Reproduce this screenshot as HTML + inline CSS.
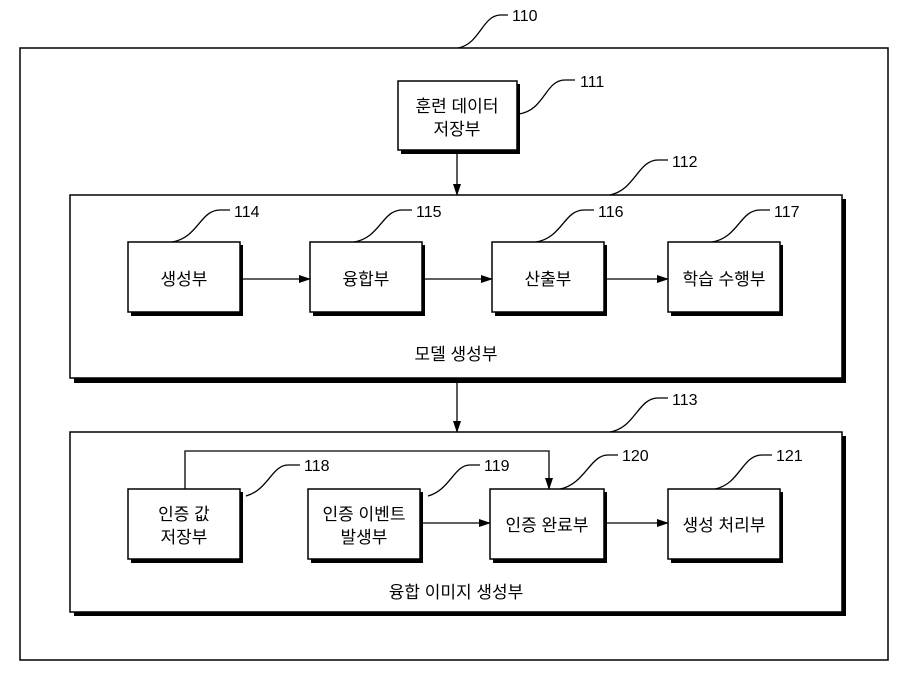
<!DOCTYPE html>
<html><head><meta charset="utf-8"><style>
body{margin:0;background:#fff}
svg text{font-family:"Liberation Sans","Noto Sans CJK KR",sans-serif;fill:#000}
</style></head><body>
<svg width="908" height="676" viewBox="0 0 908 676" xmlns="http://www.w3.org/2000/svg">
<defs><marker id="a" markerWidth="12" markerHeight="10" refX="11" refY="5" orient="auto" markerUnits="userSpaceOnUse"><path d="M0,1 L12,5 L0,9 z" fill="#000"/></marker></defs>
<g fill="none" stroke="#000">
<rect x="20" y="48" width="868" height="612" stroke-width="1.5"/>
<g stroke-width="1.5">
<rect x="401" y="84" width="119" height="70" fill="#000" stroke="none"/>
<rect x="398" y="81" width="119" height="69" fill="#fff"/>
<rect x="74" y="199" width="772" height="184" fill="#000" stroke="none"/>
<rect x="70" y="195" width="772" height="183" fill="#fff"/>
<rect x="74" y="436" width="772" height="180" fill="#000" stroke="none"/>
<rect x="70" y="432" width="772" height="180" fill="#fff"/>
<g fill="#000" stroke="none">
<rect x="131" y="245" width="112" height="71"/>
<rect x="313" y="245" width="112" height="71"/>
<rect x="495" y="245" width="112" height="71"/>
<rect x="671" y="245" width="112" height="71"/>
<rect x="131" y="492" width="112" height="71"/>
<rect x="311" y="492" width="112" height="71"/>
<rect x="493" y="492" width="114" height="71"/>
<rect x="671" y="492" width="112" height="71"/>
</g>
<g fill="#fff">
<rect x="128" y="242" width="112" height="70"/>
<rect x="310" y="242" width="112" height="70"/>
<rect x="492" y="242" width="112" height="70"/>
<rect x="668" y="242" width="112" height="70"/>
<rect x="128" y="489" width="112" height="70"/>
<rect x="308" y="489" width="112" height="70"/>
<rect x="490" y="489" width="114" height="70"/>
<rect x="668" y="489" width="112" height="70"/>
</g>
</g>
<g stroke-width="1.3">
<path d="M457 153 V195" marker-end="url(#a)"/>
<path d="M457 383 V432" marker-end="url(#a)"/>
<path d="M243 279 H310" marker-end="url(#a)"/>
<path d="M425 279 H492" marker-end="url(#a)"/>
<path d="M607 279 H668" marker-end="url(#a)"/>
<path d="M185 489 V451 H549 V489" marker-end="url(#a)"/>
<path d="M423 523 H490" marker-end="url(#a)"/>
<path d="M607 523 H668" marker-end="url(#a)"/>
<path d="M458 48 C480 44,482 16,500 15 H508"/>
<path d="M519 114 C545 110,545 80,565 80 H575"/>
<path d="M610 195 C635 190,638 160,658 160 H668"/>
<path d="M172 242 C198 238,200 210,220 210 H230"/>
<path d="M354 242 C380 238,382 210,402 210 H412"/>
<path d="M536 242 C562 238,564 210,584 210 H594"/>
<path d="M712 242 C738 238,740 210,760 210 H770"/>
<path d="M610 432 C635 428,638 398,658 398 H668"/>
<path d="M246 496 C268 490,272 465,288 465 H300"/>
<path d="M428 496 C450 490,454 465,470 465 H480"/>
<path d="M560 489 C585 484,590 455,608 455 H618"/>
<path d="M715 489 C740 484,742 455,762 455 H772"/>
</g>
</g>
<g font-size="16" text-anchor="start">
<text x="512" y="21">110</text>
<text x="580" y="87">111</text>
<text x="672" y="167">112</text>
<text x="672" y="405">113</text>
<text x="234" y="217">114</text>
<text x="416" y="217">115</text>
<text x="598" y="217">116</text>
<text x="774" y="217">117</text>
<text x="304" y="471">118</text>
<text x="484" y="471">119</text>
<text x="622" y="461">120</text>
<text x="776" y="461">121</text>
</g>
<g font-size="17" text-anchor="middle">
<text x="457" y="112">훈련 데이터</text>
<text x="457" y="135">저장부</text>
<text x="184" y="285">생성부</text>
<text x="366" y="285">융합부</text>
<text x="548" y="285">산출부</text>
<text x="724" y="285">학습 수행부</text>
<text x="456" y="360">모델 생성부</text>
<text x="184" y="520">인증 값</text>
<text x="184" y="543">저장부</text>
<text x="364" y="520">인증 이벤트</text>
<text x="364" y="543">발생부</text>
<text x="547" y="531">인증 완료부</text>
<text x="724" y="531">생성 처리부</text>
<text x="456" y="598">융합 이미지 생성부</text>
</g>
</svg>
</body></html>
